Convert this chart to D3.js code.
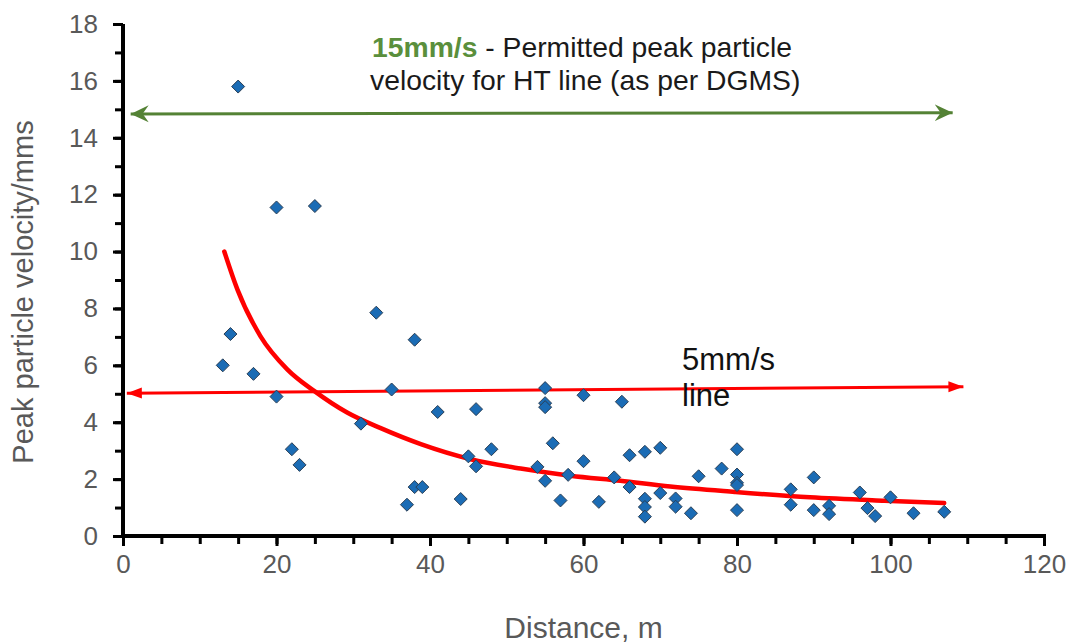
<!DOCTYPE html>
<html>
<head>
<meta charset="utf-8">
<script src="https://cdn.jsdelivr.net/npm/d3@7"></script>
<style>
  body { margin: 0; background: #fff; }
  svg { display: block; font-family: "Liberation Sans", Arial, sans-serif; }
</style>
</head>
<body>
<div id="canvas"></div>
<script>
"use strict"

/* Data */
let distance = [13, 14, 15, 17, 20, 20, 22, 23, 25, 31, 33, 35, 37, 38, 38, 39, 41, 44, 45, 46, 46, 48,
  54, 55, 55, 55, 55, 56, 57, 58, 60, 60, 62, 64, 65, 66, 66, 68, 68, 68, 68, 70, 70, 72, 72, 74, 75,
  78, 80, 80, 80, 80, 80, 87, 87, 90, 90, 92, 92, 96, 97, 98, 100, 103, 107];
let ppv = [6.0, 7.1, 15.8, 5.7, 11.55, 4.9, 3.05, 2.5, 11.6, 3.95, 7.85, 5.15, 1.1, 6.9, 1.72, 1.72, 4.36, 1.3, 2.8, 4.46, 2.45, 3.05,
  2.43, 5.2, 4.67, 4.53, 1.94, 3.26, 1.25, 2.15, 4.95, 2.63, 1.2, 2.06, 4.72, 2.84, 1.72, 2.96, 1.31, 1.02, 0.68, 3.1, 1.51, 1.32, 1.03, 0.8, 2.1,
  2.37, 3.05, 2.16, 1.87, 1.79, 0.91, 1.64, 1.1, 2.06, 0.91, 1.06, 0.77, 1.53, 0.98, 0.7, 1.36, 0.8, 0.85];

/* fitted curve */
let trendDistance = [13.2, 14.9, 17.9, 21.4, 24.9, 29.2, 33.5, 38.8, 45.3, 51.8, 58.3, 64.8, 71.3, 79.7, 89.5, 99.2, 107];
let trendPpv = [10.0, 8.67, 7.03, 5.86, 5.1, 4.34, 3.8, 3.23, 2.7, 2.37, 2.12, 1.94, 1.74, 1.55, 1.36, 1.24, 1.16];

/* limit arrows (start, end) */
let limit15X = [1.0, 108.1];
let limit15Y = [14.84, 14.88];
let limit5X = [0.5, 109.5];
let limit5Y = [5.02, 5.25];

let xTicks = [0, 20, 40, 60, 80, 100, 120];
let xMinor = d3.range(0, 121, 5);
let yTicks = [0, 2, 4, 6, 8, 10, 12, 14, 16, 18];
let yMinor = d3.range(0, 19, 1);

/* drawing */
let svgWidth = 1078;
let svgHeight = 644;
let plotLeft = 123, plotRight = 1044, plotTop = 24, plotBottom = 536;

let svg = d3.select("#canvas")
  .append("svg")
  .attr("width", svgWidth)
  .attr("height", svgHeight);

let xScale = d3.scaleLinear().domain([0, 120]).range([plotLeft, plotRight]);
let yScale = d3.scaleLinear().domain([0, 18]).range([plotBottom, plotTop]);

let defs = svg.append("defs");
defs.append("marker")
  .attr("id", "greenHead")
  .attr("markerUnits", "userSpaceOnUse")
  .attr("viewBox", "-18 -9 20 18")
  .attr("markerWidth", 20).attr("markerHeight", 18)
  .attr("refX", 0).attr("refY", 0)
  .attr("orient", "auto-start-reverse")
  .append("path")
  .attr("d", "M0,0 L-18,-8.5 L-12,0 L-18,8.5 Z")
  .attr("fill", "#548235");
defs.append("marker")
  .attr("id", "redHead")
  .attr("markerUnits", "userSpaceOnUse")
  .attr("viewBox", "-16 -6 17 12")
  .attr("markerWidth", 17).attr("markerHeight", 12)
  .attr("refX", 0).attr("refY", 0)
  .attr("orient", "auto-start-reverse")
  .append("path")
  .attr("d", "M0,0 L-15,-5.5 L-15,5.5 Z")
  .attr("fill", "#ff0000");

/* minor ticks */
svg.append("g")
  .attr("transform", `translate(0,${plotBottom})`)
  .call(d3.axisBottom(xScale).tickValues(xMinor).tickSize(8).tickSizeOuter(0).tickFormat(""))
  .call(g => g.select(".domain").remove())
  .call(g => g.selectAll("line").attr("stroke", "#000").attr("stroke-width", 3));
svg.append("g")
  .attr("transform", `translate(${plotLeft},0)`)
  .call(d3.axisLeft(yScale).tickValues(yMinor).tickSize(8).tickSizeOuter(0).tickFormat(""))
  .call(g => g.select(".domain").remove())
  .call(g => g.selectAll("line").attr("stroke", "#000").attr("stroke-width", 3));

/* main axes */
let xAxis = svg.append("g")
  .attr("transform", `translate(0,${plotBottom})`)
  .call(d3.axisBottom(xScale).tickValues(xTicks).tickSize(10).tickSizeOuter(0).tickPadding(9));
let yAxis = svg.append("g")
  .attr("transform", `translate(${plotLeft},0)`)
  .call(d3.axisLeft(yScale).tickValues(yTicks).tickSize(10).tickSizeOuter(0).tickPadding(15));

[xAxis, yAxis].forEach(g => {
  g.select(".domain").remove();
  g.selectAll(".tick line").attr("stroke", "#000").attr("stroke-width", 3);
  g.selectAll(".tick text")
    .attr("fill", "#595959")
    .style("font-size", "26px")
    .style("font-family", "'Liberation Sans', Arial, sans-serif");
});

/* heavy axis lines */
svg.append("line")
  .attr("x1", xScale(0)).attr("x2", xScale(120))
  .attr("y1", yScale(0)).attr("y2", yScale(0))
  .attr("stroke", "#000").attr("stroke-width", 4).attr("stroke-linecap", "square");
svg.append("line")
  .attr("x1", xScale(0)).attr("x2", xScale(0))
  .attr("y1", yScale(0)).attr("y2", yScale(18))
  .attr("stroke", "#000").attr("stroke-width", 4);

/* axis titles */
svg.append("text")
  .attr("x", (plotLeft + plotRight) / 2)
  .attr("y", 638)
  .attr("text-anchor", "middle")
  .attr("fill", "#595959")
  .style("font-size", "30px")
  .text("Distance, m");

svg.append("text")
  .attr("transform", `translate(33,${(plotTop + plotBottom) / 2 + 12}) rotate(-90)`)
  .attr("text-anchor", "middle")
  .attr("fill", "#595959")
  .style("font-size", "29px")
  .text("Peak particle velocity/mms");

/* 15 mm/s arrow */
svg.append("line")
  .attr("x1", xScale(limit15X[0])).attr("y1", yScale(limit15Y[0]))
  .attr("x2", xScale(limit15X[1])).attr("y2", yScale(limit15Y[1]))
  .attr("stroke", "#548235")
  .attr("stroke-width", 3)
  .attr("marker-start", "url(#greenHead)")
  .attr("marker-end", "url(#greenHead)");

/* 5 mm/s arrow */
svg.append("line")
  .attr("x1", xScale(limit5X[0])).attr("y1", yScale(limit5Y[0]))
  .attr("x2", xScale(limit5X[1])).attr("y2", yScale(limit5Y[1]))
  .attr("stroke", "#ff0000")
  .attr("stroke-width", 3)
  .attr("marker-start", "url(#redHead)")
  .attr("marker-end", "url(#redHead)");

/* trend curve */
let trend = trendDistance.map((d, i) => ({ x: d, y: trendPpv[i] }));
svg.append("path")
  .datum(trend)
  .attr("fill", "none")
  .attr("stroke", "#ff0000")
  .attr("stroke-width", 4.5)
  .attr("stroke-linecap", "round")
  .attr("d", d3.line().x(d => xScale(d.x)).y(d => yScale(d.y)).curve(d3.curveMonotoneX));

/* scatter points as diamonds */
let points = distance.map((d, i) => ({ x: d, y: ppv[i] }));
svg.selectAll("path.pt")
  .data(points)
  .join("path")
  .attr("class", "pt")
  .attr("d", "M0,-6.5 L6.5,0 L0,6.5 L-6.5,0 Z")
  .attr("transform", d => `translate(${xScale(d.x)},${yScale(d.y)})`)
  .attr("fill", "#1b6cb5")
  .attr("stroke", "#2a3f55")
  .attr("stroke-width", 1);

/* annotations */
let note = svg.append("text")
  .attr("x", 372)
  .attr("y", 57)
  .style("font-size", "28.3px")
  .attr("fill", "#1a1a1a");
note.append("tspan")
  .attr("fill", "#5a8f3c")
  .attr("font-weight", "bold")
  .text("15mm/s");
note.append("tspan").text(" - Permitted peak particle");
svg.append("text")
  .attr("x", 370)
  .attr("y", 90)
  .style("font-size", "28.3px")
  .attr("fill", "#1a1a1a")
  .text("velocity for HT line (as per DGMS)");

svg.append("text")
  .attr("x", 682)
  .attr("y", 370)
  .style("font-size", "31px")
  .attr("fill", "#111")
  .text("5mm/s");
svg.append("text")
  .attr("x", 682)
  .attr("y", 406)
  .style("font-size", "31px")
  .attr("fill", "#111")
  .text("line");
</script>
</body>
</html>
